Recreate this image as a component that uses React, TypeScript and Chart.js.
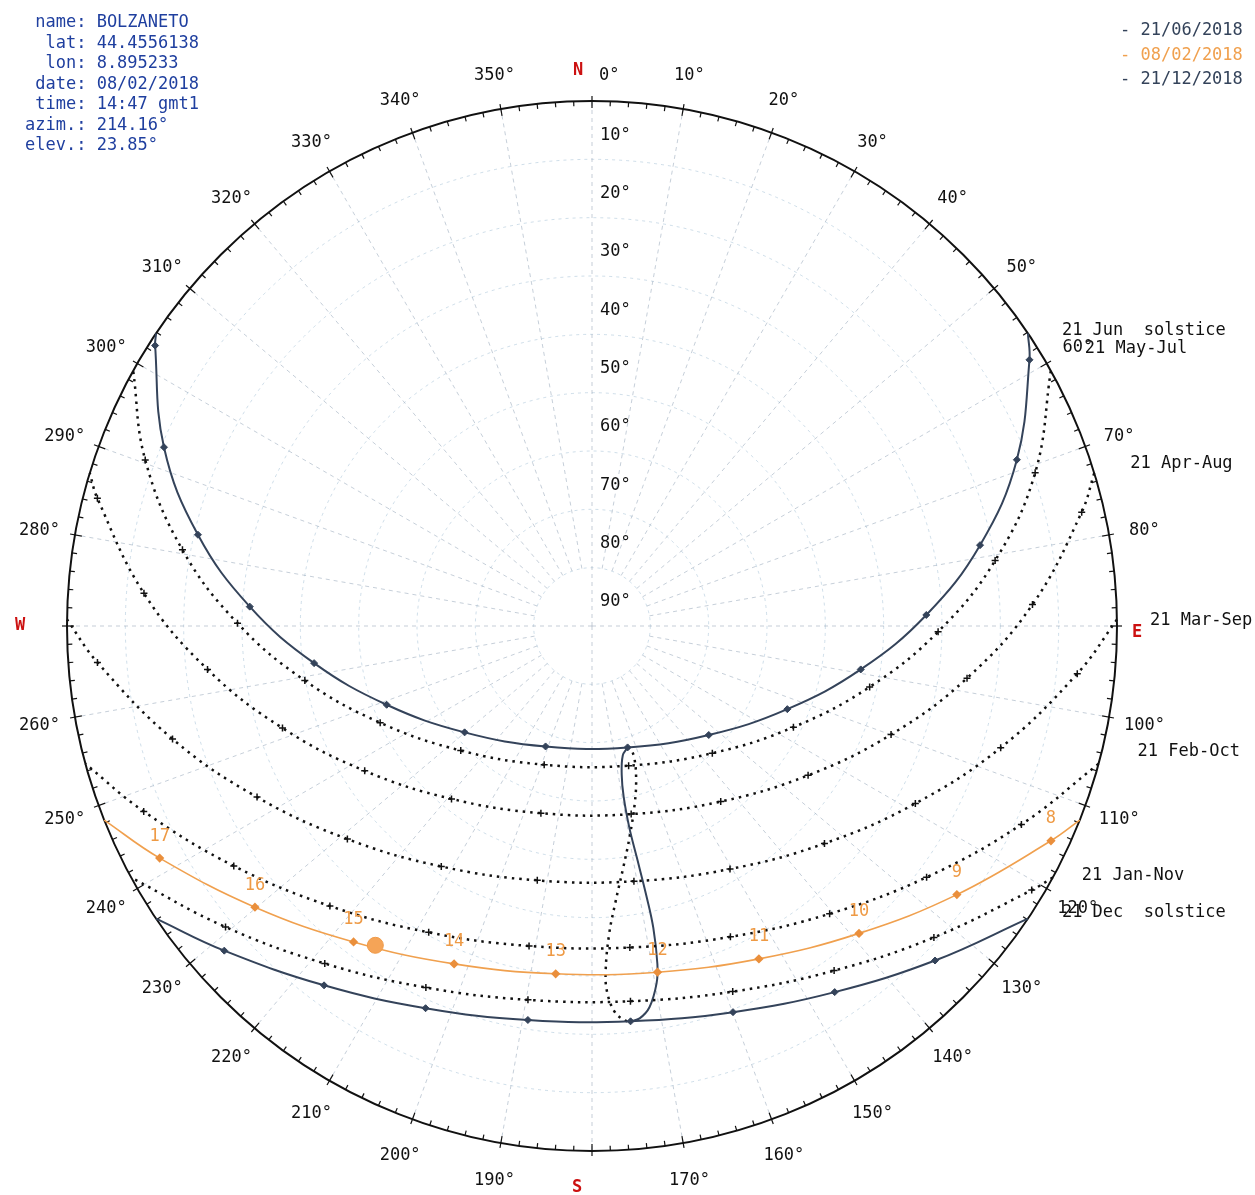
import React, { useEffect, useRef } from 'react';
import { Chart, registerables } from 'chart.js';

Chart.register(...registerables);

// ---------------- data ----------------
const INFO_LINES = [
  ' name: BOLZANETO',
  '  lat: 44.4556138',
  '  lon: 8.895233',
  ' date: 08/02/2018',
  ' time: 14:47 gmt1',
  'azim.: 214.16°',
  'elev.: 23.85°',
];
const LEGEND_DATES = ['21/06/2018', '08/02/2018', '21/12/2018'];
const AZIMUTH_TICKS = [10, 20, 30, 40, 50, 60, 70, 80, 100, 110, 120, 130, 140, 150, 160, 170,
  190, 200, 210, 220, 230, 240, 250, 260, 280, 290, 300, 310, 320, 330, 340, 350];
const ELEVATION_TICKS = [10, 20, 30, 40, 50, 60, 70, 80, 90];
const CARDINALS = ['N', 'E', 'S', 'W'];

// 21 June solstice (sunrise, 5h..20h, sunset)
const JUN21_AZ = [56.13, 58.68, 68.63, 78.23, 88.11, 99.18, 113.06, 133.03, 163.66, 201.08, 230.14, 249.01, 262.39, 273.24, 283.04, 292.67, 302.70, 303.87];
const JUN21_EL = [0, 2.21, 11.79, 22.05, 32.66, 43.33, 53.61, 62.62, 68.31, 67.87, 61.55, 52.30, 41.94, 31.24, 20.66, 10.48, 1.00, 0];
// 21 May-Jul (6h..19h)
const MAYJUL_AZ = [60.92, 70.93, 80.78, 90.95, 102.38, 116.67, 136.60, 165.30, 199.01, 226.50, 245.46, 259.24, 270.45, 280.53, 290.39, 299.08];
const MAYJUL_EL = [0, 9.62, 19.99, 30.66, 41.27, 51.36, 59.98, 65.25, 64.84, 58.98, 50.08, 39.89, 29.23, 18.59, 8.29, 0];
// 21 Apr-Aug (6h..19h)
const APRAUG_AZ = [73.07, 76.91, 87.21, 97.92, 109.95, 124.65, 143.75, 168.24, 195.27, 219.10, 237.50, 251.75, 263.56, 274.17, 284.47, 286.93];
const APRAUG_EL = [0, 3.81, 14.40, 25.09, 35.46, 44.97, 52.68, 57.06, 56.74, 51.81, 43.80, 34.13, 23.67, 12.99, 2.43, 0];
// 21 Mar-Sep (7h..18h)
const MARSEP_AZ = [89.30, 95.61, 106.58, 118.76, 133.09, 150.41, 170.67, 192.14, 212.08, 228.95, 242.94, 254.93, 265.79, 270.70];
const MARSEP_EL = [0, 6.41, 16.90, 26.77, 35.43, 42.09, 45.66, 45.40, 41.35, 34.39, 25.52, 15.53, 4.99, 0];
// 21 Feb-Oct (8h..17h)
const FEBOCT_AZ = [105.22, 114.80, 126.90, 140.45, 156.00, 173.28, 191.13, 208.06, 223.11, 236.19, 247.53, 254.78];
const FEBOCT_EL = [0, 8.91, 18.27, 26.02, 31.67, 34.51, 34.10, 30.49, 24.25, 16.09, 6.84, 0];
// 21 Jan-Nov (8h..16h)
const JANNOV_AZ = [118.63, 120.99, 132.33, 144.91, 158.95, 174.15, 189.72, 204.68, 218.37, 230.60, 241.37];
const JANNOV_EL = [0, 2.07, 10.72, 17.80, 22.84, 25.34, 24.98, 21.80, 16.20, 8.70, 0];
// 21 December solstice (9h..16h)
const DEC21_AZ = [123.87, 134.28, 146.46, 159.94, 174.43, 189.24, 203.53, 216.71, 228.56, 236.13];
const DEC21_EL = [0, 7.86, 14.70, 19.53, 21.91, 21.57, 18.54, 13.16, 5.91, 0];
// 08 February 2018 (8h..17h)
const FEB08_AZ = [111.70, 115.08, 126.36, 139.02, 153.37, 169.28, 185.96, 202.20, 217.04, 230.16, 241.77, 248.30];
const FEB08_EL = [0, 3.13, 12.33, 20.20, 26.16, 29.60, 30.05, 27.44, 22.14, 14.75, 5.88, 0];
const FEB08_HOURS = ['', '8', '9', '10', '11', '12', '13', '14', '15', '16', '17', ''];
// current sun position
const NOW_AZ = [214.16];
const NOW_EL = [23.85];
// analemma at 12:00 gmt1 (Dec -> Jun solid, Jun -> Dec dotted)
const ANALEMMA1_AZ = [174.43, 173.08, 171.43, 169.76, 169.05, 168.52, 168.60, 169.04, 169.51, 169.50, 168.71, 166.63, 163.66];
const ANALEMMA1_EL = [21.91, 22.24, 23.90, 27.74, 30.99, 37.18, 42.75, 49.56, 54.85, 60.20, 63.97, 67.19, 68.31];
const ANALEMMA2_AZ = [163.66, 162.55, 162.24, 163.87, 166.32, 169.78, 172.59, 175.20, 176.84, 177.75, 177.60, 176.60, 175.16, 174.43];
const ANALEMMA2_EL = [68.31, 67.88, 66.20, 62.78, 58.92, 53.45, 48.32, 42.34, 36.99, 30.52, 27.01, 23.67, 22.10, 21.91];

const CURVE_LABELS = ['21 Jun  solstice', '21 May-Jul', '21 Apr-Aug', '21 Mar-Sep', '21 Feb-Oct', '21 Jan-Nov', '21 Dec  solstice'];

// ---------------- styling ----------------
const SOLID = '#34435a';
const DOTTED = '#111111';
const ORANGE = '#f0a04e';
const INFO_BLUE = '#1f3f9f';
const RED = '#cc1111';
const TEXT = '#111111';
const MONO = '"DejaVu Sans Mono", monospace';
// label offsets (pixels) from the sunrise end of each curve
const LABEL_OFFSETS = [[34, -3], [34, -22], [36, -10], [33, 1], [39, -12], [29, -2], [34, -6]];

function toPoints(az: number[], el: number[]) {
  return az.map((a, i) => {
    const r = 90 - el[i];
    const rad = (a * Math.PI) / 180;
    return { x: r * Math.sin(rad), y: r * Math.cos(rad) };
  });
}

function endRadius(n: number, r: number) {
  return (ctx: any) => (ctx.dataIndex === 0 || ctx.dataIndex === n - 1 ? 0 : r);
}

const sunPlugin = {
  id: 'sunGrid',
  beforeDraw(chart: any) {
    const c = chart.ctx;
    c.save();
    c.fillStyle = '#ffffff';
    c.fillRect(0, 0, chart.width, chart.height);
    c.restore();
  },
  beforeDatasetsDraw(chart: any) {
    const ctx = chart.ctx;
    const sx = chart.scales.x;
    const sy = chart.scales.y;
    const cx = sx.getPixelForValue(0);
    const cy = sy.getPixelForValue(0);
    const R = sx.getPixelForValue(90) - cx;
    ctx.save();
    // elevation circles
    ctx.strokeStyle = 'rgba(160,190,212,0.5)';
    ctx.lineWidth = 1;
    ctx.setLineDash([3, 4]);
    ELEVATION_TICKS.forEach((el) => {
      if (el >= 90) return;
      const r = (R * (90 - el)) / 90;
      ctx.beginPath();
      ctx.arc(cx, cy, r, 0, Math.PI * 2);
      ctx.stroke();
    });
    // radial lines
    ctx.strokeStyle = 'rgba(160,175,192,0.6)';
    ctx.setLineDash([4, 4]);
    for (let a = 0; a < 360; a += 10) {
      const r0 = a % 90 === 0 ? 0 : (R * 10) / 90;
      const rad = (a * Math.PI) / 180;
      ctx.beginPath();
      ctx.moveTo(cx + r0 * Math.sin(rad), cy - r0 * Math.cos(rad));
      ctx.lineTo(cx + R * Math.sin(rad), cy - R * Math.cos(rad));
      ctx.stroke();
    }
    ctx.setLineDash([]);
    // outer circle
    ctx.strokeStyle = '#111';
    ctx.lineWidth = 2;
    ctx.beginPath();
    ctx.arc(cx, cy, R, 0, Math.PI * 2);
    ctx.stroke();
    // ticks
    ctx.lineWidth = 1.2;
    for (let a = 0; a < 360; a += 2) {
      const rad = (a * Math.PI) / 180;
      const major = a % 10 === 0;
      const r1 = major ? R - 7 : R - 5;
      const r2 = major ? R + 5 : R;
      ctx.beginPath();
      ctx.moveTo(cx + r1 * Math.sin(rad), cy - r1 * Math.cos(rad));
      ctx.lineTo(cx + r2 * Math.sin(rad), cy - r2 * Math.cos(rad));
      ctx.stroke();
    }
    ctx.restore();
  },
  afterDatasetsDraw(chart: any) {
    const ctx = chart.ctx;
    const sx = chart.scales.x;
    const sy = chart.scales.y;
    const cx = sx.getPixelForValue(0);
    const cy = sy.getPixelForValue(0);
    const R = sx.getPixelForValue(90) - cx;
    ctx.save();
    ctx.font = `17px ${MONO}`;
    ctx.fillStyle = TEXT;
    ctx.textBaseline = 'middle';
    // azimuth labels
    ctx.textAlign = 'center';
    AZIMUTH_TICKS.forEach((a) => {
      const rad = (a * Math.PI) / 180;
      const r = R + 36;
      ctx.fillText(`${a}°`, cx + r * Math.sin(rad), cy - r * Math.cos(rad) + 2);
    });
    ctx.textAlign = 'left';
    ctx.fillText('0°', cx + 7, cy - R - 25);
    // elevation labels
    ELEVATION_TICKS.forEach((el) => {
      const r = (R * (90 - el)) / 90;
      ctx.fillText(`${el}°`, cx + 8, cy - r - 24);
    });
    // cardinals
    ctx.font = `bold 17px ${MONO}`;
    ctx.fillStyle = RED;
    ctx.textAlign = 'center';
    const cardPos = [
      [cx - 14, cy - R - 30],
      [cx + R + 20, cy + 7],
      [cx - 15, cy + R + 37],
      [cx - R - 47, cy],
    ];
    CARDINALS.forEach((t, i) => ctx.fillText(t, cardPos[i][0], cardPos[i][1]));
    // curve labels
    ctx.font = `17px ${MONO}`;
    ctx.fillStyle = TEXT;
    ctx.textAlign = 'left';
    CURVE_LABELS.forEach((t, i) => {
      const meta = chart.getDatasetMeta(i + 2);
      const p = meta.data[0];
      if (!p) return;
      ctx.fillText(t, p.x + LABEL_OFFSETS[i][0], p.y + LABEL_OFFSETS[i][1]);
    });
    // orange hour labels
    ctx.font = `17px ${MONO}`;
    ctx.fillStyle = '#ee9a45';
    ctx.textAlign = 'center';
    const om = chart.getDatasetMeta(1);
    FEB08_HOURS.forEach((h, i) => {
      if (!h) return;
      const p = om.data[i];
      ctx.fillText(h, p.x, p.y - 22);
    });
    // info block
    ctx.font = `17px ${MONO}`;
    ctx.fillStyle = INFO_BLUE;
    ctx.textAlign = 'left';
    INFO_LINES.forEach((t, i) => ctx.fillText(t, 25, 23 + i * 20.5));
    // legend
    const legendColors = [SOLID, ORANGE, SOLID];
    LEGEND_DATES.forEach((t, i) => {
      ctx.fillStyle = legendColors[i];
      ctx.fillText(`- ${t}`, 1120, 31 + i * 24.5);
    });
    ctx.restore();
  },
};

export default function App() {
  const canvasRef = useRef<HTMLCanvasElement | null>(null);

  useEffect(() => {
    if (!canvasRef.current) return;
    const dotted = (az: number[], el: number[]) => ({
      data: toPoints(az, el),
      showLine: true,
      borderColor: DOTTED,
      borderWidth: 2.5,
      borderDash: [2.5, 5],
      tension: 0.4,
      pointStyle: 'cross',
      pointRadius: endRadius(az.length, 3.5),
      pointBorderColor: DOTTED,
      pointBorderWidth: 1.5,
      pointBackgroundColor: DOTTED,
    });
    const solid = (az: number[], el: number[]) => ({
      data: toPoints(az, el),
      showLine: true,
      borderColor: SOLID,
      borderWidth: 2,
      tension: 0.4,
      pointStyle: 'rectRot',
      pointRadius: endRadius(az.length, 3.5),
      pointBorderColor: SOLID,
      pointBackgroundColor: SOLID,
      pointBorderWidth: 1,
    });
    const chart = new Chart(canvasRef.current, {
      type: 'scatter',
      data: {
        datasets: [
          {
            data: toPoints(NOW_AZ, NOW_EL),
            pointRadius: 8,
            pointBackgroundColor: '#f5a457',
            pointBorderColor: '#f09a48',
            pointBorderWidth: 1,
            showLine: false,
          } as any,
          {
            data: toPoints(FEB08_AZ, FEB08_EL),
            showLine: true,
            borderColor: ORANGE,
            borderWidth: 1.6,
            tension: 0.4,
            pointStyle: 'rectRot',
            pointRadius: endRadius(FEB08_AZ.length, 3.5),
            pointBackgroundColor: '#ea8f3c',
            pointBorderColor: '#ea8f3c',
          } as any,
          solid(JUN21_AZ, JUN21_EL),
          dotted(MAYJUL_AZ, MAYJUL_EL),
          dotted(APRAUG_AZ, APRAUG_EL),
          dotted(MARSEP_AZ, MARSEP_EL),
          dotted(FEBOCT_AZ, FEBOCT_EL),
          dotted(JANNOV_AZ, JANNOV_EL),
          solid(DEC21_AZ, DEC21_EL),
          {
            data: toPoints(ANALEMMA1_AZ, ANALEMMA1_EL),
            showLine: true,
            borderColor: SOLID,
            borderWidth: 2,
            tension: 0.4,
            pointRadius: 0,
          } as any,
          {
            data: toPoints(ANALEMMA2_AZ, ANALEMMA2_EL),
            showLine: true,
            borderColor: DOTTED,
            borderWidth: 2.5,
            borderDash: [2.5, 5],
            tension: 0.4,
            pointRadius: 0,
          } as any,
        ],
      },
      options: {
        animation: false,
        responsive: false,
        devicePixelRatio: 1,
        layout: { padding: { left: 67, right: 138, top: 101, bottom: 44 } },
        scales: {
          x: { type: 'linear', min: -90, max: 90, display: false },
          y: { type: 'linear', min: -90, max: 90, display: false },
        },
        plugins: { legend: { display: false }, tooltip: { enabled: false } },
        datasets: { scatter: { clip: false } as any },
      } as any,
      plugins: [sunPlugin as any],
    });
    return () => chart.destroy();
  }, []);

  return (
    <div style={{ position: 'absolute', left: 0, top: 0, width: 1255, height: 1195, background: '#fff' }}>
      <canvas ref={canvasRef} width={1255} height={1195} style={{ display: 'block' }} />
    </div>
  );
}
